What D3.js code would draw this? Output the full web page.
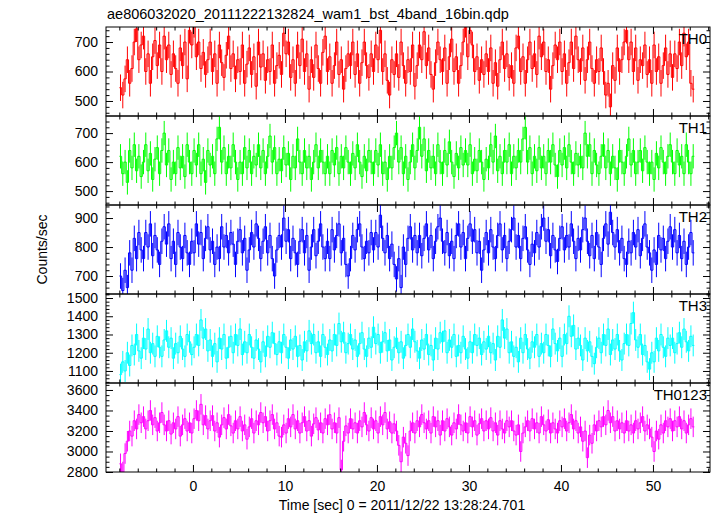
<!DOCTYPE html>
<html><head><meta charset="utf-8">
<script src="https://cdn.jsdelivr.net/npm/d3@7"></script>
<style>body{margin:0;background:#fff}svg{display:block}</style>
</head><body><svg id="c" width="717" height="516"></svg>
<script>
const title = "ae806032020_20111222132824_wam1_bst_4band_16bin.qdp";
const xLabel = "Time [sec] 0 = 2011/12/22 13:28:24.701";
const yLabel = "Counts/sec";
const timeStart = -8.0;     // start time of first bin (s)
const binWidth = 0.25;      // bin width (s)

const th0 = [
545,520,575,640,560,610,700,745,640,690,
720,600,660,560,650,705,620,690,600,720,
640,690,590,660,610,560,680,620,700,575,
740,690,760,650,700,610,665,590,640,700,
600,660,560,690,630,580,655,720,610,660,
575,640,600,690,560,625,680,590,650,550,
700,615,660,570,640,600,690,560,620,655,
590,730,660,700,580,640,560,690,620,710,
600,660,540,640,580,690,610,560,665,720,
600,650,560,620,700,590,640,540,610,660,
620,700,590,660,560,630,700,620,580,660,
600,690,640,740,600,660,570,520,640,590,
660,580,700,620,560,640,600,690,550,620,
690,640,735,620,680,590,540,630,700,640,
600,680,560,650,710,600,650,560,620,700,
760,650,740,690,600,650,570,640,590,660,
600,680,560,630,550,640,700,610,660,580,
620,560,680,720,600,650,560,640,700,610,
660,590,720,650,700,600,640,540,620,690,
640,700,600,660,560,630,700,610,720,640,
600,680,570,640,700,610,560,640,600,680,
600,520,560,480,620,570,680,600,640,700,
740,640,700,600,680,570,640,620,690,590,
640,560,690,600,650,560,620,680,590,660,
580,660,610,700,620,730,650,700,560,540];

const th1 = [
620,560,600,530,640,580,660,570,620,550,
600,660,570,630,540,610,650,560,640,700,
590,640,540,600,560,650,580,620,550,660,
600,560,640,590,660,560,610,530,640,590,
620,560,680,720,600,650,560,620,580,660,
600,540,600,560,650,580,640,560,620,590,
660,580,640,560,620,690,600,650,560,610,
570,650,590,630,540,620,580,680,600,560,
640,580,620,540,600,660,580,640,600,560,
620,560,640,590,650,560,620,580,650,600,
560,630,580,660,600,550,620,570,640,600,
560,640,590,660,560,600,540,620,580,650,
700,600,650,560,620,540,600,660,580,640,
720,620,680,570,640,580,620,560,660,600,
560,640,590,670,600,550,630,580,650,590,
640,590,660,560,610,570,640,600,540,610,
580,660,600,690,570,620,560,640,600,660,
560,620,580,640,600,680,720,600,650,560,
620,570,650,580,620,560,640,600,660,590,
550,640,590,650,580,660,600,560,630,590,
620,580,700,620,660,560,640,590,560,620,
660,580,640,560,620,580,540,640,600,560,
620,680,590,640,560,600,640,570,650,600,
560,600,540,630,580,650,600,560,620,660,
600,560,640,590,620,560,660,600,560,620];

const th2 = [
700,650,720,660,780,720,830,760,850,790,
760,850,800,880,770,840,790,740,820,870,
810,880,760,820,740,850,800,760,840,780,
740,820,780,880,810,850,760,830,870,790,
820,740,800,760,870,800,840,780,850,810,
740,820,860,780,830,720,790,850,800,880,
830,760,820,870,780,840,760,700,790,840,
800,900,820,860,760,830,780,740,820,860,
780,840,720,800,860,770,820,880,800,760,
820,760,860,790,840,880,780,830,740,700,
760,840,790,860,880,800,760,820,780,850,
790,850,800,910,830,780,840,760,810,740,
690,760,660,800,740,830,870,790,840,780,
840,770,830,880,790,840,760,820,870,900,
820,780,850,770,820,760,840,880,800,850,
760,830,880,820,860,780,820,720,790,850,
780,860,800,760,840,880,790,840,760,820,
860,900,800,840,760,830,870,790,740,810,
780,850,800,870,900,820,860,770,840,790,
750,830,870,790,840,800,880,820,760,830,
790,860,900,820,770,840,760,850,800,740,
830,880,810,920,850,800,860,780,830,760,
740,820,780,850,800,860,770,830,880,800,
780,720,790,740,840,790,830,760,820,870,
800,860,780,840,760,820,740,800,850,780];

const th3 = [
1080,1150,1100,1200,1130,1240,1190,1300,1210,1170,
1280,1220,1330,1200,1250,1180,1290,1230,1180,1270,
1320,1230,1280,1170,1250,1200,1290,1220,1180,1300,
1260,1190,1230,1300,1240,1380,1280,1330,1210,1270,
1180,1250,1150,1280,1220,1300,1170,1230,1290,1200,
1300,1240,1330,1190,1260,1200,1300,1230,1170,1270,
1220,1150,1260,1180,1290,1230,1310,1250,1190,1260,
1200,1300,1230,1170,1270,1220,1290,1180,1240,1160,
1260,1210,1320,1250,1300,1200,1260,1180,1300,1230,
1190,1270,1210,1300,1240,1360,1260,1310,1200,1250,
1300,1220,1270,1180,1250,1310,1220,1180,1280,1230,
1340,1250,1300,1200,1260,1310,1210,1270,1160,1230,
1280,1200,1260,1170,1240,1300,1230,1330,1260,1210,
1170,1270,1220,1300,1190,1240,1160,1280,1220,1310,
1260,1320,1200,1270,1230,1300,1180,1240,1200,1290,
1220,1170,1260,1200,1300,1240,1280,1190,1260,1220,
1290,1200,1250,1160,1290,1230,1380,1280,1330,1200,
1260,1180,1230,1150,1280,1200,1300,1220,1170,1260,
1230,1300,1180,1250,1200,1300,1240,1180,1330,1250,
1210,1280,1180,1300,1250,1400,1290,1350,1220,1280,
1240,1160,1280,1210,1260,1180,1140,1230,1280,1200,
1300,1240,1330,1190,1270,1220,1300,1210,1160,1250,
1300,1240,1360,1420,1270,1230,1300,1190,1240,1150,
1110,1200,1150,1280,1210,1300,1230,1180,1280,1240,
1280,1200,1250,1310,1230,1330,1260,1210,1290,1240];

const th0123 = [
2880,2800,2980,3100,3200,3150,3300,3220,3360,3280,
3340,3220,3300,3400,3260,3330,3200,3280,3380,3260,
3200,3300,3170,3280,3220,3340,3150,3260,3320,3200,
3280,3180,3320,3400,3300,3460,3260,3350,3220,3300,
3350,3200,3280,3140,3260,3330,3220,3360,3250,3180,
3300,3220,3340,3200,3260,3120,3240,3320,3180,3300,
3260,3380,3280,3340,3200,3300,3360,3220,3280,3150,
3140,3260,3180,3320,3240,3360,3220,3300,3180,3280,
3340,3200,3300,3150,3270,3330,3210,3280,3180,3320,
3260,3360,3220,3280,3180,3330,2820,3100,3250,3180,
3320,3220,3280,3180,3300,3240,3380,3260,3200,3330,
3220,3300,3180,3340,3260,3380,3220,3290,3180,3270,
3200,3060,2900,3140,3080,2960,3200,3280,3180,3300,
3240,3360,3280,3220,3300,3180,3340,3240,3300,3160,
3300,3200,3320,3240,3160,3280,3220,3360,3260,3200,
3280,3180,3340,3240,3300,3160,3270,3320,3200,3300,
3220,3330,3200,3280,3160,3300,3220,3180,3300,3240,
3300,3200,3160,3260,3000,3180,3240,3300,3200,3320,
3220,3280,3180,3340,3260,3200,3310,3180,3280,3220,
3180,3300,3240,3320,3200,3280,3360,3220,3300,3180,
3240,3100,3200,2940,3160,3080,3260,3200,3300,3240,
3340,3260,3400,3280,3340,3200,3300,3220,3280,3180,
3300,3200,3260,3180,3300,3220,3280,3340,3200,3260,
3220,3140,3000,3200,3120,3260,3180,3300,3240,3320,
3200,3300,3240,3340,3220,3300,3180,3260,3320,3240];

const panelNames = ["TH0", "TH1", "TH2", "TH3", "TH0123"];
const panelSeries = [th0, th1, th2, th3, th0123];
const panelErrors = [45, 42, 44, 60, 100];
const yDomains = [[449, 751], [452, 759], [638, 945], [1034, 1522], [2800, 3668]];
const yMajorStep = [100, 100, 100, 100, 200];
const yMinorStep = [20, 20, 20, 20, 50];
const xDomain = [-9.45, 56.2];
const xMajorStep = 10, xMinorStep = 2;
const colors = ["#ff0000", "#00ff00", "#0000ff", "#00ffff", "#ff00ff"];

// ---------- layout ----------
const PL = 106, PR = 710, PT = 27, PH = 89;
const FONT = "'Liberation Sans', Arial, Helvetica, sans-serif";
const svg = d3.select("#c");

const x = d3.scaleLinear().domain(xDomain).range([PL, PR]);
function stepRange(d0, d1, s) {
  const out = [];
  for (let v = Math.ceil(d0 / s - 1e-9) * s; v <= d1 + 1e-9; v += s) out.push(Math.round(v * 1000) / 1000);
  return out;
}
const xMaj = stepRange(xDomain[0], xDomain[1], xMajorStep);
const xMin = stepRange(xDomain[0], xDomain[1], xMinorStep).filter(v => !xMaj.includes(v));

svg.append("text").attr("x", PL + 1).attr("y", 19)
  .attr("font-family", FONT).attr("font-size", 14.5).attr("fill", "#000").text(title);

panelSeries.forEach((vals, p) => {
  const y0 = PT + p * PH, y1 = y0 + PH;
  const y = d3.scaleLinear().domain(yDomains[p]).range([y1, y0]);
  const g = svg.append("g");
  const cid = "clip" + p;
  svg.append("clipPath").attr("id", cid).append("rect")
    .attr("x", PL).attr("y", y0).attr("width", PR - PL).attr("height", PH);
  const data = vals.map((v, i) => ({t: timeStart + binWidth * (i + 0.5), v}));
  const dg = g.append("g").attr("clip-path", `url(#${cid})`);
  const err = panelErrors[p];
  dg.selectAll("line.err").data(data).join("line").attr("class", "err")
    .attr("x1", d => x(d.t)).attr("x2", d => x(d.t))
    .attr("y1", d => y(d.v - err)).attr("y2", d => y(d.v + err))
    .attr("stroke", colors[p]).attr("stroke-width", 1);
  const ext = [{t: timeStart, v: vals[0]}, ...data, {t: timeStart + binWidth * vals.length, v: vals[vals.length - 1]}];
  const line = d3.line().x(d => x(d.t)).y(d => y(d.v)).curve(d3.curveStep);
  dg.append("path").attr("d", line(ext)).attr("fill", "none")
    .attr("stroke", colors[p]).attr("stroke-width", 1);

  const yMaj = stepRange(yDomains[p][0], yDomains[p][1], yMajorStep[p]);
  const yMin = stepRange(yDomains[p][0], yDomains[p][1], yMinorStep[p]).filter(v => !yMaj.some(m => Math.abs(m - v) < 1e-6));

  function styleAxis(sel) {
    sel.select(".domain").remove();
    sel.selectAll("line").attr("stroke", "#000");
    sel.selectAll("text").attr("font-family", FONT).attr("font-size", 14).attr("fill", "#000");
  }
  g.append("g").attr("transform", `translate(${PL},0)`)
    .call(d3.axisLeft(y).tickValues(yMaj).tickSizeInner(-7).tickSizeOuter(0).tickPadding(8).tickFormat(d3.format("d"))).call(styleAxis);
  g.append("g").attr("transform", `translate(${PL},0)`)
    .call(d3.axisLeft(y).tickValues(yMin).tickSizeInner(-3.5).tickSizeOuter(0).tickFormat("")).call(styleAxis);
  g.append("g").attr("transform", `translate(${PR},0)`)
    .call(d3.axisRight(y).tickValues(yMaj).tickSizeInner(-7).tickSizeOuter(0).tickFormat("")).call(styleAxis);
  g.append("g").attr("transform", `translate(${PR},0)`)
    .call(d3.axisRight(y).tickValues(yMin).tickSizeInner(-3.5).tickSizeOuter(0).tickFormat("")).call(styleAxis);
  g.append("g").attr("transform", `translate(0,${y0})`)
    .call(d3.axisTop(x).tickValues(xMaj).tickSizeInner(-7).tickSizeOuter(0).tickFormat("")).call(styleAxis);
  g.append("g").attr("transform", `translate(0,${y0})`)
    .call(d3.axisTop(x).tickValues(xMin).tickSizeInner(-3.5).tickSizeOuter(0).tickFormat("")).call(styleAxis);
  const last = p === panelSeries.length - 1;
  g.append("g").attr("transform", `translate(0,${y1})`)
    .call(d3.axisBottom(x).tickValues(xMaj).tickSizeInner(-7).tickSizeOuter(0).tickPadding(9)
      .tickFormat(last ? d3.format("d") : "")).call(styleAxis);
  g.append("g").attr("transform", `translate(0,${y1})`)
    .call(d3.axisBottom(x).tickValues(xMin).tickSizeInner(-3.5).tickSizeOuter(0).tickFormat("")).call(styleAxis);

  g.append("rect").attr("x", PL).attr("y", y0).attr("width", PR - PL).attr("height", PH)
    .attr("fill", "none").attr("stroke", "#000").attr("stroke-width", 1);

  g.append("text").attr("x", PR - 3).attr("y", y0 + 17).attr("text-anchor", "end")
    .attr("font-family", FONT).attr("font-size", 15).attr("fill", "#000").text(panelNames[p]);
});

svg.append("text").attr("x", (PL + PR) / 2 - 6).attr("y", 510).attr("text-anchor", "middle")
  .attr("font-family", FONT).attr("font-size", 14).attr("fill", "#000").text(xLabel);
svg.append("text").attr("transform", `translate(47,${PT + PH * 2.5}) rotate(-90)`)
  .attr("text-anchor", "middle").attr("font-family", FONT).attr("font-size", 14).attr("fill", "#000").text(yLabel);
</script>
</body></html>
